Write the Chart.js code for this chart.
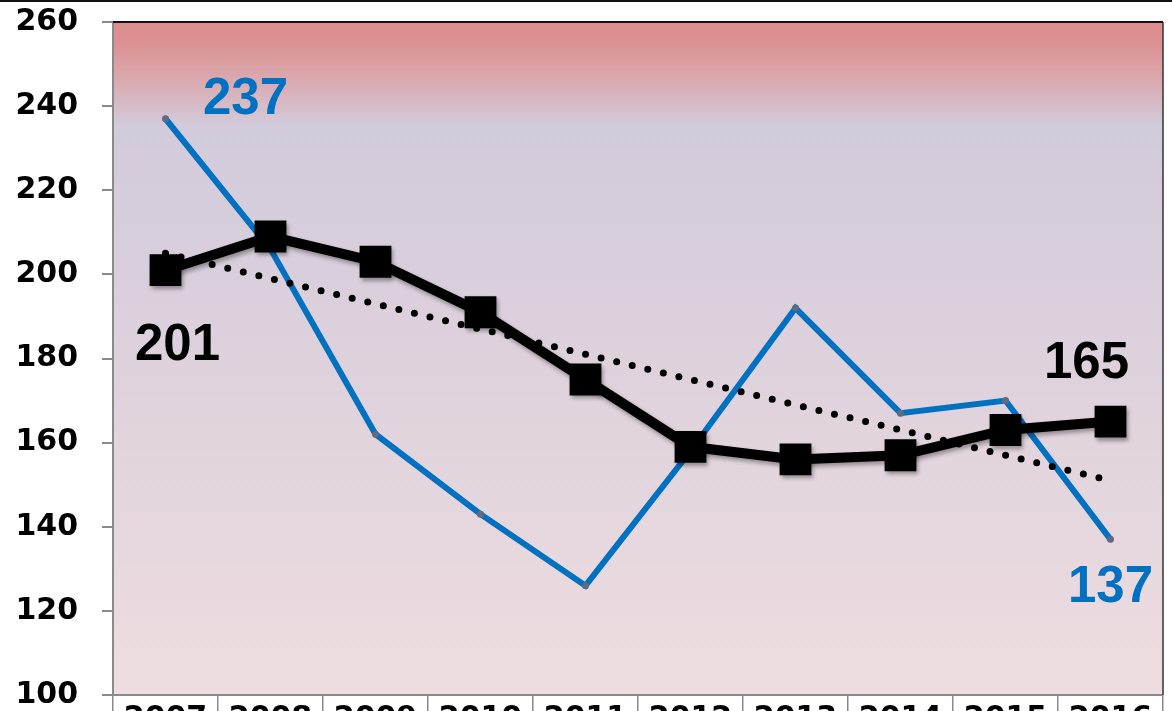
<!DOCTYPE html>
<html>
<head>
<meta charset="utf-8">
<script src="https://cdn.jsdelivr.net/npm/chart.js@4.4.1/dist/chart.umd.min.js"></script>
<style>
  html, body { margin: 0; padding: 0; background: #fff; }
  #wrap { width: 1172px; height: 711px; position: relative; }
</style>
</head>
<body>
<div id="wrap"><canvas id="myChart" width="1172" height="711"></canvas></div>
<script>
// Datos del gráfico
const years = ['2007', '2008', '2009', '2010', '2011', '2012', '2013', '2014', '2015', '2016'];
const blueValues = [237, 206, 162, 143, 126, 158, 192, 167, 170, 137];
const blackValues = [201, 209, 203, 191, 175, 159, 156, 157, 163, 165];
const trendValues = [205, null, null, null, null, null, null, null, null, 151];
const yTicks = [100, 120, 140, 160, 180, 200, 220, 240, 260];

// Etiquetas de valor (serie, índice)
const valueLabels = [
  { dataset: 2, index: 0, dx: 80, dy: -19, color: '#0070c0' },
  { dataset: 0, index: 0, dx: 12, dy: 76, color: '#000000' },
  { dataset: 0, index: 9, dx: -24, dy: -58, color: '#000000' },
  { dataset: 2, index: 9, dx: 0, dy: 49, color: '#0070c0' }
];

// Los cuadrados grandes no deben reservar margen alrededor del área del gráfico
Chart.LineController.prototype.getMaxOverflow = function () { return 0; };

// Fondo degradado del área del gráfico y bordes
const backgroundPlugin = {
  id: 'plotBackground',
  beforeDraw(chart) {
    const { ctx, chartArea: a } = chart;
    ctx.save();
    ctx.fillStyle = '#ffffff';
    ctx.fillRect(0, 0, chart.width, chart.height);
    const g = ctx.createLinearGradient(0, a.top, 0, a.bottom);
    g.addColorStop(0, '#dc8d8e');
    g.addColorStop(0.03, '#dc9091');
    g.addColorStop(0.09, '#d9abb1');
    g.addColorStop(0.155, '#d2cbdb');
    g.addColorStop(0.5, '#ddd1dc');
    g.addColorStop(1, '#eedde0');
    ctx.fillStyle = g;
    ctx.fillRect(a.left, a.top, a.right - a.left, a.bottom - a.top);
    // línea superior de la imagen
    ctx.fillStyle = '#111111';
    ctx.fillRect(0, 0, chart.width, 2);
    ctx.restore();
  },
  afterDraw(chart) {
    const { ctx, chartArea: a } = chart;
    ctx.save();
    ctx.strokeStyle = '#111111';
    ctx.lineWidth = 2;
    ctx.beginPath();
    ctx.moveTo(a.left, a.top);
    ctx.lineTo(a.right, a.top);
    ctx.stroke();
    ctx.strokeStyle = '#333333';
    ctx.lineWidth = 1.5;
    ctx.beginPath();
    ctx.moveTo(a.right, a.top);
    ctx.lineTo(a.right, a.bottom);
    ctx.stroke();
    ctx.restore();
  }
};

// Sombra para los cuadrados negros
const shadowPlugin = {
  id: 'squareShadow',
  beforeDatasetDraw(chart, args) {
    if (args.index === 0) {
      const ctx = chart.ctx;
      ctx.save();
      ctx.shadowColor = 'rgba(0,0,0,0.35)';
      ctx.shadowBlur = 4;
      ctx.shadowOffsetX = 2;
      ctx.shadowOffsetY = 3;
    }
  },
  afterDatasetDraw(chart, args) {
    if (args.index === 0) chart.ctx.restore();
  }
};

// Etiquetas con los valores
const labelPlugin = {
  id: 'valueLabels',
  afterDatasetsDraw(chart) {
    const ctx = chart.ctx;
    ctx.save();
    ctx.font = 'bold 51px "Liberation Sans", Arial, sans-serif';
    ctx.textAlign = 'center';
    ctx.textBaseline = 'middle';
    valueLabels.forEach(l => {
      const ds = chart.data.datasets[l.dataset];
      const v = ds.data[l.index];
      const x = chart.scales.x.getPixelForValue(l.index);
      const y = chart.scales.y.getPixelForValue(v);
      ctx.fillStyle = l.color;
      ctx.fillText(String(v), x + l.dx, y + l.dy);
    });
    ctx.restore();
  }
};

const axisFont = { family: '"DejaVu Sans", sans-serif', size: 30, weight: 'bold', lineHeight: 1 };

const ctx = document.getElementById('myChart').getContext('2d');
const chart = new Chart(ctx, {
  type: 'line',
  data: {
    labels: years,
    datasets: [
      {
        label: 'Media',
        data: blackValues,
        borderColor: '#000000',
        backgroundColor: '#000000',
        borderWidth: 10,
        pointStyle: 'rect',
        pointRadius: 22.5,
        pointBorderWidth: 0,
        tension: 0,
        clip: false
      },
      {
        label: 'Tendencia',
        data: trendValues,
        borderColor: '#000000',
        borderWidth: 7,
        borderDash: [0, 16],
        borderCapStyle: 'round',
        spanGaps: true,
        pointRadius: 0,
        tension: 0
      },
      {
        label: 'Anual',
        data: blueValues,
        borderColor: '#0070c0',
        backgroundColor: '#5d6b84',
        borderWidth: 6,
        pointRadius: 3.5,
        pointBorderWidth: 0,
        tension: 0
      }
    ]
  },
  options: {
    responsive: false,
    animation: false,
    layout: { padding: { top: 22, right: 9, bottom: 0, left: 0 } },
    plugins: {
      legend: { display: false },
      tooltip: { enabled: false }
    },
    scales: {
      x: {
        offset: true,
        grid: { offset: true, drawOnChartArea: false, tickLength: 16, color: '#8a8a8a', lineWidth: 1.5 },
        border: { color: '#8a8a8a', width: 2 },
        ticks: { font: axisFont, color: '#000000', padding: -7, maxRotation: 0 },
        afterFit(scale) {
          scale.height = 16;
          scale.paddingLeft = 0; scale.paddingRight = 0;
          scale.paddingTop = 0; scale.paddingBottom = 0;
        }
      },
      y: {
        min: 100,
        max: 260,
        afterBuildTicks(scale) { scale.ticks = yTicks.map(v => ({ value: v })); },
        grid: { drawOnChartArea: false, tickLength: 11, color: '#8a8a8a', lineWidth: 2 },
        border: { color: '#8a8a8a', width: 2 },
        ticks: { font: axisFont, color: '#000000', padding: 24 },
        afterFit(scale) {
          scale.width = 113;
          scale.paddingLeft = 0; scale.paddingRight = 0;
          scale.paddingTop = 0; scale.paddingBottom = 0;
        }
      }
    }
  },
  plugins: [backgroundPlugin, shadowPlugin, labelPlugin]
});
</script>
</body>
</html>
